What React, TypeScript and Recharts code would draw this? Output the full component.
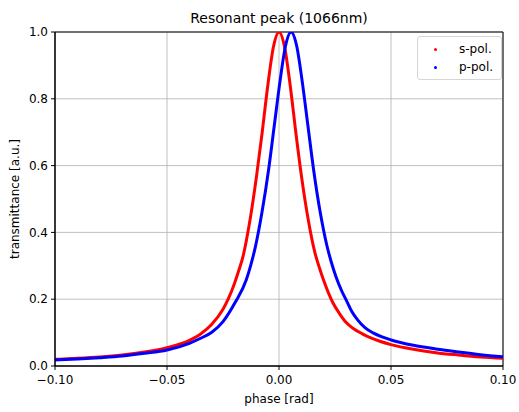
import {
  CartesianGrid,
  Line,
  LineChart,
  ReferenceArea,
  XAxis,
  YAxis,
} from 'recharts';

// phase [rad] / transmittance
const S_PHASE = [
  -0.1, -0.09, -0.08, -0.07, -0.06, -0.05, -0.04, -0.035, -0.03, -0.025,
  -0.0225, -0.02, -0.018, -0.016, -0.013, -0.01, -0.0075, -0.005, -0.0025, 0.0,
  0.0025, 0.005, 0.0075, 0.01, 0.013, 0.016, 0.018, 0.02, 0.024, 0.027, 0.03,
  0.033, 0.037, 0.041, 0.045, 0.05, 0.06, 0.07, 0.08, 0.09, 0.1,
];
const S_VALUES = [
  0.02, 0.023, 0.027, 0.033, 0.042, 0.055, 0.077, 0.096, 0.125, 0.17, 0.203,
  0.245, 0.285, 0.33, 0.435, 0.57, 0.7, 0.84, 0.955, 1.0, 0.955, 0.84, 0.7,
  0.57, 0.44, 0.34, 0.295, 0.255, 0.19, 0.157, 0.13, 0.113, 0.097, 0.084,
  0.074, 0.064, 0.05, 0.04, 0.033, 0.027, 0.023,
];

const P_PHASE = [
  -0.1, -0.09, -0.08, -0.07, -0.06, -0.05, -0.04, -0.035, -0.03, -0.025,
  -0.0196, -0.0146, -0.0126, -0.0106, -0.0076, -0.0046, -0.0021, 0.0004, 0.0029,
  0.0054, 0.0079, 0.0104, 0.0129, 0.0154, 0.0184, 0.0214, 0.0234, 0.0254,
  0.0279, 0.0304, 0.0325, 0.035, 0.0385, 0.042, 0.046, 0.05, 0.06, 0.07, 0.08,
  0.09, 0.1,
];
const P_VALUES = [
  0.018, 0.021, 0.025, 0.03, 0.038, 0.048, 0.068, 0.083, 0.101, 0.133, 0.19,
  0.258, 0.302, 0.355, 0.46, 0.59, 0.72, 0.85, 0.958, 1.0, 0.958, 0.85, 0.72,
  0.59, 0.46, 0.36, 0.31, 0.268, 0.226, 0.192, 0.163, 0.139, 0.114, 0.099,
  0.087, 0.078, 0.062, 0.051, 0.042, 0.034, 0.028,
];

const X_TICKS = [-0.1, -0.05, 0, 0.05, 0.1];
const Y_TICKS = [0, 0.2, 0.4, 0.6, 0.8, 1.0];

const SERIES = [
  { name: 's-pol.', color: '#ff0000', phase: S_PHASE, values: S_VALUES },
  { name: 'p-pol.', color: '#0000ff', phase: P_PHASE, values: P_VALUES },
];

const FONT = '"DejaVu Sans", sans-serif';

const fmtX = (v: number) => {
  const s = Math.abs(v).toFixed(2);
  return v < -1e-9 ? `\u2212${s}` : s;
};

function LegendBox() {
  return (
    <div
      style={{
        position: 'absolute',
        left: 417,
        top: 36,
        width: 85,
        boxSizing: 'border-box',
        border: '1px solid #d6d6d6',
        borderRadius: 3,
        background: 'rgba(255,255,255,0.8)',
        padding: '3px 0 3px 16px',
        fontSize: 12,
        color: '#000',
      }}
    >
      {SERIES.map((s) => (
        <div
          key={s.name}
          style={{ display: 'flex', alignItems: 'center', height: 18 }}
        >
          <span
            style={{
              width: 3,
              height: 3,
              borderRadius: 2,
              background: s.color,
              marginRight: 22,
            }}
          />
          {s.name}
        </div>
      ))}
    </div>
  );
}

export default function App() {
  const series = SERIES.map((s) => ({
    ...s,
    data: s.phase.map((x, i) => ({ x, y: s.values[i] })),
  }));

  return (
    <div
      style={{
        position: 'absolute',
        top: 0,
        left: 0,
        width: 519,
        height: 412,
        background: '#fff',
        fontFamily: FONT,
      }}
    >
      <div
        style={{
          position: 'absolute',
          top: 10,
          left: 55,
          width: 448,
          textAlign: 'center',
          fontSize: 14,
          color: '#000',
        }}
      >
        Resonant peak (1066nm)
      </div>
      <div
        style={{
          position: 'absolute',
          left: 8,
          top: 199,
          transform: 'translate(-50%, -50%) rotate(-90deg) translateY(50%)',
          whiteSpace: 'nowrap',
          fontSize: 12,
          color: '#000',
        }}
      >
        transmittance [a.u.]
      </div>
      <LineChart
        width={519}
        height={412}
        margin={{ top: 32, right: 16, left: 0, bottom: 0 }}
      >
        <CartesianGrid stroke="#b0b0b0" strokeWidth={0.8} />
        <XAxis
          type="number"
          dataKey="x"
          domain={[-0.1, 0.1]}
          ticks={X_TICKS}
          tickFormatter={fmtX}
          allowDataOverflow
          height={46}
          tickSize={4}
          tickMargin={5}
          stroke="#000"
          tick={{ fill: '#000', fontSize: 12, fontFamily: FONT }}
          label={{
            value: 'phase [rad]',
            position: 'insideBottom',
            offset: 9,
            fill: '#000',
            fontSize: 12,
            fontFamily: FONT,
          }}
        />
        <YAxis
          type="number"
          domain={[0, 1]}
          ticks={Y_TICKS}
          tickFormatter={(v: number) => v.toFixed(1)}
          allowDataOverflow
          width={55}
          tickSize={4}
          tickMargin={3}
          stroke="#000"
          tick={{ fill: '#000', fontSize: 12, fontFamily: FONT }}
        />
        {series.map((s) => (
          <Line
            key={s.name}
            data={s.data}
            dataKey="y"
            name={s.name}
            type="monotone"
            stroke={s.color}
            strokeWidth={3}
            dot={false}
            activeDot={false}
            isAnimationActive={false}
          />
        ))}
        <ReferenceArea
          x1={-0.1}
          x2={0.1}
          y1={0}
          y2={1}
          fill="none"
          stroke="#000"
          strokeWidth={1}
          ifOverflow="visible"
        />
      </LineChart>
      <LegendBox />
    </div>
  );
}
